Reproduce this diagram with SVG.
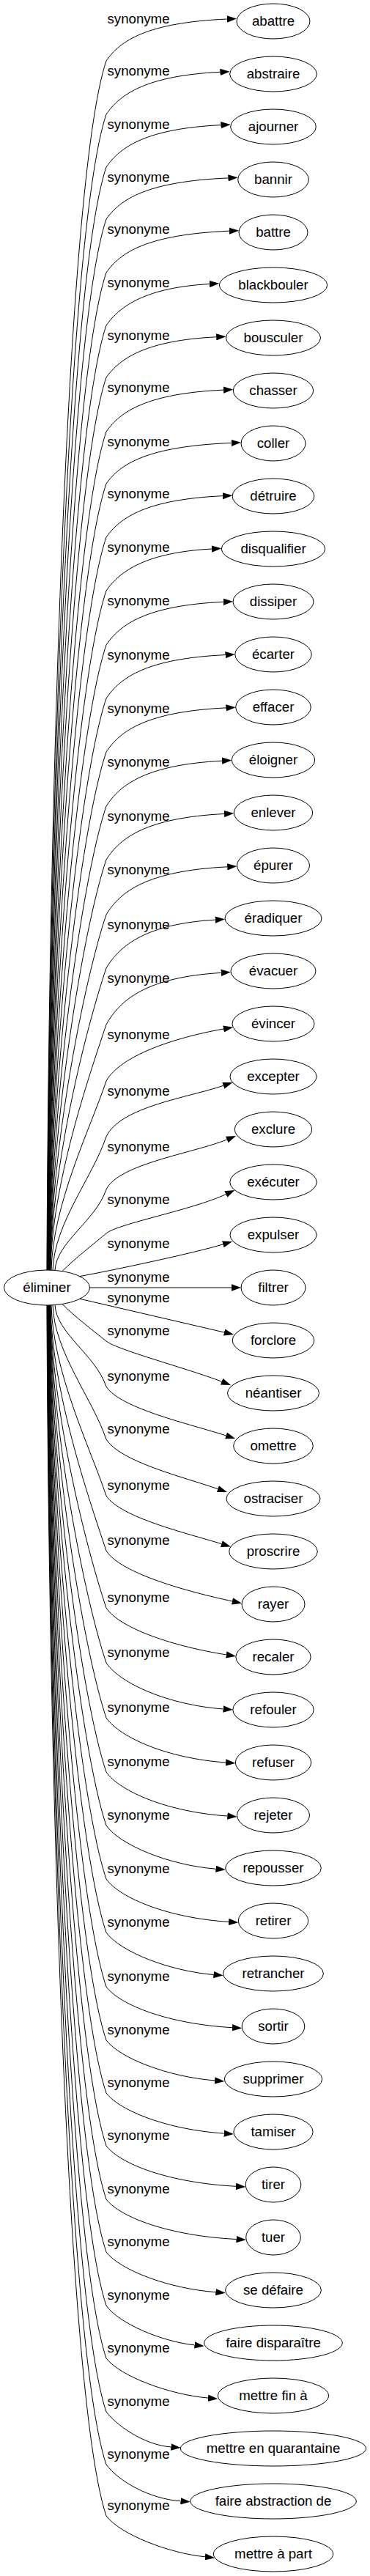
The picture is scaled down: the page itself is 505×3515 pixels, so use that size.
<svg xmlns="http://www.w3.org/2000/svg" width="505" height="3515" viewBox="0 0 505 3515">
<style>
text{font-family:"Liberation Sans",Arial,sans-serif;font-size:18.67px;fill:#000;text-anchor:middle}
.n ellipse{fill:none;stroke:#000;stroke-width:1}
.e path{fill:none;stroke:#000;stroke-width:1;marker-end:url(#ah)}
</style>
<defs>
<marker id="ah" markerUnits="userSpaceOnUse" viewBox="0 0 13.33 9.33" markerWidth="13.33" markerHeight="9.33" refX="0" refY="4.665" orient="auto"><path d="M0,0 L13.33,4.665 L0,9.33 z" fill="#000"/></marker>
</defs>
<rect width="505" height="3515" fill="#fff"/>
<g id="edges" class="e">
<g id="e0"><path d="M64,1733 C66,1155.5 89,250 145,83 C164,55.6 200,30.9 309.7,26"/><text x="189" y="32.3">synonyme</text></g>
<g id="e1"><path d="M64.3,1733 C66.3,1181 90.3,319.3 145,156 C164,128.3 200,103.3 300.4,98.3"/><text x="189" y="103.3">synonyme</text></g>
<g id="e2"><path d="M64.6,1733 C66.6,1206.2 91.5,387.5 145,228 C164,200.4 200,175.5 301.4,170.6"/><text x="189" y="176.3">synonyme</text></g>
<g id="e3"><path d="M64.8,1733 C66.8,1231.1 92.8,454.7 145,299 C164,272.1 200,247.7 311.4,242.9"/><text x="189" y="248.3">synonyme</text></g>
<g id="e4"><path d="M65.1,1733 C67.1,1256.6 94.1,523.7 145,372 C164,344.7 200,320.1 312.8,315.2"/><text x="189" y="319.3">synonyme</text></g>
<g id="e5"><path d="M65.4,1733 C67.4,1281.8 95.5,591.6 145,444 C164,416.9 200,392.4 286,387.5"/><text x="189" y="392.3">synonyme</text></g>
<g id="e6"><path d="M65.7,1733 C67.7,1306.7 96.9,658.5 145,515 C164,488.5 200,464.5 295.2,459.8"/><text x="189" y="464.3">synonyme</text></g>
<g id="e7"><path d="M66,1733 C68,1332.6 98.4,728.1 145,589 C164,561.7 200,537 305,532.1"/><text x="189" y="535.3">synonyme</text></g>
<g id="e8"><path d="M66.2,1733 C68.2,1357.4 99.8,794.7 145,660 C164,633.3 200,609.2 315.7,604.4"/><text x="189" y="609.3">synonyme</text></g>
<g id="e9"><path d="M66.5,1733 C68.5,1383 101.4,863 145,733 C164,706 200,681.5 303.8,676.7"/><text x="189" y="680.3">synonyme</text></g>
<g id="e10"><path d="M66.8,1733 C68.8,1408.5 103,931.2 145,806 C164,778.6 200,753.9 289,749"/><text x="189" y="753.3">synonyme</text></g>
<g id="e11"><path d="M67.1,1733 C69.1,1434.4 104.7,1000.1 145,880 C164,851.8 200,826.3 304.7,821.3"/><text x="189" y="826.3">synonyme</text></g>
<g id="e12"><path d="M67.3,1733 C69.3,1460 106.5,1067.8 145,953 C164,924.5 200,898.7 307.5,893.6"/><text x="189" y="900.3">synonyme</text></g>
<g id="e13"><path d="M67.6,1733 C69.6,1485.5 108.3,1135.3 145,1026 C164,997.2 200,971.1 308.4,965.9"/><text x="189" y="973.3">synonyme</text></g>
<g id="e14"><path d="M67.9,1733 C69.9,1511.4 110.3,1203.4 145,1100 C164,1070.3 200,1043.5 303,1038.2"/><text x="189" y="1046.3">synonyme</text></g>
<g id="e15"><path d="M68.2,1733 C70.2,1537 112.4,1270.3 145,1173 C164,1143 200,1115.9 306,1110.5"/><text x="189" y="1120.3">synonyme</text></g>
<g id="e16"><path d="M68.4,1733 C70.4,1563.2 114.6,1338.5 145,1248 C164,1216.7 200,1188.4 310.2,1182.8"/><text x="189" y="1193.3">synonyme</text></g>
<g id="e17"><path d="M68.7,1733 C70.7,1588.8 117,1404.5 145,1321 C164,1289.4 200,1260.8 293.7,1255.1"/><text x="189" y="1268.3">synonyme</text></g>
<g id="e18"><path d="M69,1733 C71,1615.7 119.8,1473.3 145,1398 C164,1364.1 200,1333.5 301.7,1327.4"/><text x="189" y="1341.3">synonyme</text></g>
<g id="e19"><path d="M70,1733.1 C72,1642.7 122.9,1541 145,1475 C164,1441 236,1416.2 305,1404"/><text x="189" y="1418.3">synonyme</text></g>
<g id="e20"><path d="M72,1733.2 C74,1669.3 126.4,1606.5 145,1551 C164,1510 257.5,1497.6 304.8,1481.3"/><text x="189" y="1495.3">synonyme</text></g>
<g id="e21"><path d="M75,1733.4 C77,1694.9 130.5,1666.1 145,1623 C162,1588 263.4,1573.7 309.7,1555"/><text x="189" y="1571.3">synonyme</text></g>
<g id="e22"><path d="M85,1734.6 C100,1719 132,1694 145,1683 C160,1670 263,1650.8 308.3,1629.6"/><text x="189" y="1643.3">synonyme</text></g>
<g id="e23"><path d="M109,1741.5 C148.4,1734.6 266,1709.6 304.3,1697.9"/><text x="189" y="1703.3">synonyme</text></g>
<g id="e24"><path d="M122.5,1757 L316,1757"/><text x="189" y="1749.3">synonyme</text></g>
<g id="e25"><path d="M109,1772.3 L306,1818"/><text x="189" y="1777.3">synonyme</text></g>
<g id="e26"><path d="M85,1779.4 C100,1795 133,1820.4 145,1830 C160,1842 255.9,1867.3 302.6,1885.2"/><text x="189" y="1822.3">synonyme</text></g>
<g id="e27"><path d="M75,1780.6 C77,1819.6 130.4,1848.6 145,1892 C164,1922 260.8,1943.4 308.4,1958.9"/><text x="189" y="1884.3">synonyme</text></g>
<g id="e28"><path d="M72,1780.8 C74,1844.9 126.3,1908.4 145,1964 C164,1994.5 250.1,2015.4 297.4,2031.7"/><text x="189" y="1956.3">synonyme</text></g>
<g id="e29"><path d="M70,1780.9 C72,1871.9 122.8,1974.7 145,2041 C164,2070.5 254.5,2092 302.3,2106.6"/><text x="189" y="2033.3">synonyme</text></g>
<g id="e30"><path d="M69,1781 C71,1898.3 119.8,2040.7 145,2116 C164,2147 258.3,2172.4 317,2184.9"/><text x="189" y="2108.3">synonyme</text></g>
<g id="e31"><path d="M68.7,1781 C70.7,1925.6 117,2110.4 145,2194 C164,2222.8 239.6,2247 308.8,2257.9"/><text x="189" y="2186.3">synonyme</text></g>
<g id="e32"><path d="M68.4,1781 C70.4,1951.8 114.5,2178.2 145,2269 C164,2297.4 230,2326.3 304.6,2332"/><text x="189" y="2261.3">synonyme</text></g>
<g id="e33"><path d="M68.2,1781 C70.2,1978 112.3,2246.5 145,2344 C164,2371.5 230,2399.5 308.1,2405"/><text x="189" y="2336.3">synonyme</text></g>
<g id="e34"><path d="M67.9,1781 C69.9,2004 110.2,2314.2 145,2418 C164,2445 230,2472.6 310.3,2478"/><text x="189" y="2410.3">synonyme</text></g>
<g id="e35"><path d="M67.6,1781 C69.6,2029.5 108.3,2381.4 145,2491 C164,2517.6 230,2544.9 294.5,2550.2"/><text x="189" y="2483.3">synonyme</text></g>
<g id="e36"><path d="M67.3,1781 C69.3,2055 106.4,2449 145,2564 C164,2590.3 230,2617.1 312.1,2622.4"/><text x="189" y="2556.3">synonyme</text></g>
<g id="e37"><path d="M67.1,1781 C69.1,2080.6 104.7,2516.7 145,2637 C164,2662.9 230,2689.3 291.4,2694.5"/><text x="189" y="2629.3">synonyme</text></g>
<g id="e38"><path d="M66.8,1781 C68.8,2106.5 103,2585.6 145,2711 C164,2736.1 230,2761.7 317,2766.7"/><text x="189" y="2703.3">synonyme</text></g>
<g id="e39"><path d="M66.5,1781 C68.5,2132 101.3,2653.8 145,2784 C164,2808.7 230,2834 293.1,2838.9"/><text x="189" y="2776.3">synonyme</text></g>
<g id="e40"><path d="M66.2,1781 C68.2,2157.3 99.8,2721.2 145,2856 C164,2880.8 230,2906.1 305.7,2911.1"/><text x="189" y="2848.3">synonyme</text></g>
<g id="e41"><path d="M66,1781 C68,2182.5 98.3,2788.8 145,2928 C164,2952.9 230,2978.3 322,2983.3"/><text x="189" y="2920.3">synonyme</text></g>
<g id="e42"><path d="M65.7,1781 C67.7,2208 96.8,2857.4 145,3001 C164,3025.5 230,3050.6 322.5,3055.5"/><text x="189" y="2993.3">synonyme</text></g>
<g id="e43"><path d="M65.4,1781 C67.4,2233.2 95.4,2925.2 145,3073 C164,3097.6 230,3122.8 294.4,3127.7"/><text x="189" y="3065.3">synonyme</text></g>
<g id="e44"><path d="M65.1,1781 C67.1,2258.8 94.1,2994.1 145,3146 C162,3170.3 220.5,3195.1 265.5,3199.9"/><text x="189" y="3138.3">synonyme</text></g>
<g id="e45"><path d="M64.8,1781 C66.8,2284 92.7,3062.2 145,3218 C164,3242.3 230,3267.2 284,3272.1"/><text x="189" y="3210.3">synonyme</text></g>
<g id="e46"><path d="M64.5,1781 C66.5,2309.5 91.4,3131.2 145,3291 C158,3308 195,3336 233.4,3339"/><text x="189" y="3283.3">synonyme</text></g>
<g id="e47"><path d="M64.3,1781 C66.3,2334.7 90.2,3199.5 145,3363 C162,3386 205,3410 246.5,3412.8"/><text x="189" y="3355.3">synonyme</text></g>
<g id="e48"><path d="M64,1781 C66,2359.2 89,3266 145,3433 C164,3458.1 230,3483.8 279.9,3488.8"/><text x="189" y="3425.3">synonyme</text></g>
</g>
<g id="n-eliminer" class="n"><ellipse cx="64" cy="1757" rx="58.5" ry="24"/><text x="64" y="1762.6">éliminer</text></g>
<g id="n0" class="n"><ellipse cx="373" cy="29" rx="50" ry="24"/><text x="373" y="34.6">abattre</text></g>
<g id="n1" class="n"><ellipse cx="373" cy="101" rx="59.3" ry="24"/><text x="373" y="106.6">abstraire</text></g>
<g id="n2" class="n"><ellipse cx="373" cy="173" rx="58.3" ry="24"/><text x="373" y="178.6">ajourner</text></g>
<g id="n3" class="n"><ellipse cx="373" cy="245" rx="48.3" ry="24"/><text x="373" y="250.6">bannir</text></g>
<g id="n4" class="n"><ellipse cx="373" cy="317" rx="47" ry="24"/><text x="373" y="322.6">battre</text></g>
<g id="n5" class="n"><ellipse cx="373" cy="389" rx="73.7" ry="24"/><text x="373" y="394.6">blackbouler</text></g>
<g id="n6" class="n"><ellipse cx="373" cy="461" rx="64.5" ry="24"/><text x="373" y="466.6">bousculer</text></g>
<g id="n7" class="n"><ellipse cx="373" cy="533" rx="54.7" ry="24"/><text x="373" y="538.6">chasser</text></g>
<g id="n8" class="n"><ellipse cx="373" cy="605" rx="44" ry="24"/><text x="373" y="610.6">coller</text></g>
<g id="n9" class="n"><ellipse cx="373" cy="677" rx="55.9" ry="24"/><text x="373" y="682.6">détruire</text></g>
<g id="n10" class="n"><ellipse cx="373" cy="749" rx="70.7" ry="24"/><text x="373" y="754.6">disqualifier</text></g>
<g id="n11" class="n"><ellipse cx="373" cy="821" rx="55" ry="24"/><text x="373" y="826.6">dissiper</text></g>
<g id="n12" class="n"><ellipse cx="373" cy="893" rx="52.2" ry="24"/><text x="373" y="898.6">écarter</text></g>
<g id="n13" class="n"><ellipse cx="373" cy="965" rx="51.3" ry="24"/><text x="373" y="970.6">effacer</text></g>
<g id="n14" class="n"><ellipse cx="373" cy="1037" rx="56.7" ry="24"/><text x="373" y="1042.6">éloigner</text></g>
<g id="n15" class="n"><ellipse cx="373" cy="1109" rx="53.7" ry="24"/><text x="373" y="1114.6">enlever</text></g>
<g id="n16" class="n"><ellipse cx="373" cy="1181" rx="49.5" ry="24"/><text x="373" y="1186.6">épurer</text></g>
<g id="n17" class="n"><ellipse cx="373" cy="1253" rx="66" ry="24"/><text x="373" y="1258.6">éradiquer</text></g>
<g id="n18" class="n"><ellipse cx="373" cy="1325" rx="58" ry="24"/><text x="373" y="1330.6">évacuer</text></g>
<g id="n19" class="n"><ellipse cx="373" cy="1397" rx="56" ry="24"/><text x="373" y="1402.6">évincer</text></g>
<g id="n20" class="n"><ellipse cx="373" cy="1469" rx="59" ry="24"/><text x="373" y="1474.6">excepter</text></g>
<g id="n21" class="n"><ellipse cx="373" cy="1541" rx="52.7" ry="24"/><text x="373" y="1546.6">exclure</text></g>
<g id="n22" class="n"><ellipse cx="373" cy="1613" rx="59.2" ry="24"/><text x="373" y="1618.6">exécuter</text></g>
<g id="n23" class="n"><ellipse cx="373" cy="1685" rx="59" ry="24"/><text x="373" y="1690.6">expulser</text></g>
<g id="n24" class="n"><ellipse cx="373" cy="1757" rx="44" ry="24"/><text x="373" y="1762.6">filtrer</text></g>
<g id="n25" class="n"><ellipse cx="373" cy="1829" rx="55.8" ry="24"/><text x="373" y="1834.6">forclore</text></g>
<g id="n26" class="n"><ellipse cx="373" cy="1901" rx="62.5" ry="24"/><text x="373" y="1906.6">néantiser</text></g>
<g id="n27" class="n"><ellipse cx="373" cy="1973" rx="54.3" ry="24"/><text x="373" y="1978.6">omettre</text></g>
<g id="n28" class="n"><ellipse cx="373" cy="2045" rx="64" ry="24"/><text x="373" y="2050.6">ostraciser</text></g>
<g id="n29" class="n"><ellipse cx="373" cy="2117" rx="60.3" ry="24"/><text x="373" y="2122.6">proscrire</text></g>
<g id="n30" class="n"><ellipse cx="373" cy="2189" rx="43" ry="24"/><text x="373" y="2194.6">rayer</text></g>
<g id="n31" class="n"><ellipse cx="373" cy="2261" rx="51.1" ry="24"/><text x="373" y="2266.6">recaler</text></g>
<g id="n32" class="n"><ellipse cx="373" cy="2333" rx="55.2" ry="24"/><text x="373" y="2338.6">refouler</text></g>
<g id="n33" class="n"><ellipse cx="373" cy="2405" rx="51.7" ry="24"/><text x="373" y="2410.6">refuser</text></g>
<g id="n34" class="n"><ellipse cx="373" cy="2477" rx="49.5" ry="24"/><text x="373" y="2482.6">rejeter</text></g>
<g id="n35" class="n"><ellipse cx="373" cy="2549" rx="65.3" ry="24"/><text x="373" y="2554.6">repousser</text></g>
<g id="n36" class="n"><ellipse cx="373" cy="2621" rx="47.7" ry="24"/><text x="373" y="2626.6">retirer</text></g>
<g id="n37" class="n"><ellipse cx="373" cy="2693" rx="68.4" ry="24"/><text x="373" y="2698.6">retrancher</text></g>
<g id="n38" class="n"><ellipse cx="373" cy="2765" rx="42.8" ry="24"/><text x="373" y="2770.6">sortir</text></g>
<g id="n39" class="n"><ellipse cx="373" cy="2837" rx="66.7" ry="24"/><text x="373" y="2842.6">supprimer</text></g>
<g id="n40" class="n"><ellipse cx="373" cy="2909" rx="54.1" ry="24"/><text x="373" y="2914.6">tamiser</text></g>
<g id="n41" class="n"><ellipse cx="373" cy="2981" rx="37.8" ry="24"/><text x="373" y="2986.6">tirer</text></g>
<g id="n42" class="n"><ellipse cx="373" cy="3053" rx="37.3" ry="24"/><text x="373" y="3058.6">tuer</text></g>
<g id="n43" class="n"><ellipse cx="373" cy="3125" rx="65.4" ry="24"/><text x="373" y="3130.6">se défaire</text></g>
<g id="n44" class="n"><ellipse cx="373" cy="3197" rx="94.3" ry="24"/><text x="373" y="3202.6">faire disparaître</text></g>
<g id="n45" class="n"><ellipse cx="373" cy="3269" rx="75.8" ry="24"/><text x="373" y="3274.6">mettre fin à</text></g>
<g id="n46" class="n"><ellipse cx="373" cy="3341" rx="126.7" ry="24"/><text x="373" y="3346.6">mettre en quarantaine</text></g>
<g id="n47" class="n"><ellipse cx="373" cy="3413" rx="113.3" ry="24"/><text x="373" y="3418.6">faire abstraction de</text></g>
<g id="n48" class="n"><ellipse cx="373" cy="3485" rx="81.7" ry="24"/><text x="373" y="3490.6">mettre à part</text></g>
</svg>
